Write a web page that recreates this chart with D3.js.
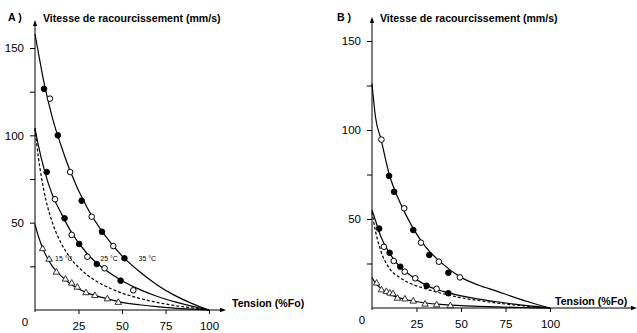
<!DOCTYPE html>
<html>
<head>
<meta charset="utf-8">
<script src="https://cdn.jsdelivr.net/npm/d3@7"></script>
<style>
  body { margin: 0; background: #fff; }
  svg text { font-family: "Liberation Sans", Arial, Helvetica, sans-serif; fill: #000; }
</style>
</head>
<body>
<script>
// tension grid (%Fo) used for the fitted curves
var tension = [0, 2, 5, 10, 15, 20, 30, 40, 50, 60, 70, 80, 90, 100];

// panel A curves (mm/s)
var a35 = [158, 147, 131, 110, 94, 80, 58.5, 43, 31, 22, 14.5, 8.5, 3.8, 0];
var a25 = [104, 94, 81.5, 65.8, 55.5, 46, 32.2, 23.3, 16.8, 11.8, 7.9, 4.8, 2.2, 0];
var aDash = [104, 87, 69, 50, 38.3, 30.3, 20.1, 13.9, 9.7, 6.7, 4.4, 2.6, 1.2, 0];
var a15 = [49, 42, 34, 25, 19.5, 15.2, 9.8, 6.8, 4.4, 3, 1.9, 1.1, 0.5, 0];

// panel A measured points [tension, speed, filled]
var a35pts = [[5.2,126.6,1],[8.6,121,0],[13.1,100,1],[20.2,79,0],[26.8,62.6,1],[32.6,53.4,0],[38.5,44.8,1],[45,36.6,0],[51.4,29.6,1]];
var a25pts = [[6.7,79,1],[11.5,63.4,0],[17,52.5,1],[21.1,43,0],[25.4,37.8,1],[30.1,30.5,0],[35.5,26.3,1],[40,23.9,0],[49.2,16.8,1],[56.5,11.3,0]];
var a15pts = [[4.4,35],[8.1,29],[12.3,21.6],[17.5,17.6],[21.1,15.3],[24.3,13],[29.3,9.8],[34.4,8.2],[41.6,6.3],[47.9,4.3]];

// panel B curves
var bTop = [126, 107, 95, 74, 61, 50.5, 34.5, 24.5, 17.2, 12.8, 9.5, 6, 2.8, 0];
var bMid = [55, 49, 40, 30.5, 24, 19.5, 13, 9.3, 6.8, 5, 3.5, 2.2, 1, 0];
var bDash = [54, 43, 32, 22, 17.5, 14.5, 10.8, 8, 5.8, 4.2, 2.8, 1.7, 0.8, 0];
var bTri = [17, 14, 11, 7.8, 5.8, 4.5, 2.8, 1.9, 1.3, 0.9, 0.6, 0.35, 0.15, 0];

// panel B measured points
var bTopPts = [[5.3,94.6,0],[9.6,74.2,1],[12.4,65.3,1],[18.1,56,0],[23.2,43.8,1],[27.5,36.7,0],[32.2,29.8,1],[37.6,26,0],[42.9,19.8,1],[49.4,17.2,0]];
var bMidPts = [[4,44.6,1],[6.7,34.4,0],[9.9,31,1],[12.2,26.4,0],[15.9,23.2,1],[18.4,20.4,0],[24.3,16.7,0],[30.7,12.5,1],[36.3,10.8,0],[42.9,8.3,1]];
var bTriPts = [[2.6,13.9],[5.3,10.1],[8.1,9.2],[10,8.3],[11.8,7.9],[14.3,5.4],[18.5,5],[23.2,3.8],[29.8,2.1],[36.3,1.7],[44,1.2]];

var xTicks = [25, 50, 75, 100];
var yTicks = [25, 50, 75, 100, 125, 150];
var yLabels = [50, 100, 150];
var tempLabels = [["15 °C", 11.5, 28], ["25 °C", 37.5, 28], ["35 °C", 59.5, 28]];

var svg = d3.select("body").append("svg").attr("width", 637).attr("height", 333);
svg.append("rect").attr("width", 637).attr("height", 333).attr("fill", "#fff");

function panel(opt) {
  var x = d3.scaleLinear().domain([0, 100]).range(opt.xr);
  var y = d3.scaleLinear().domain([0, 150]).range(opt.yr);
  var g = svg.append("g");
  var x0 = x(0), y0 = y(0);

  // axes lines + arrows
  g.append("line").attr("x1", x0).attr("x2", x0).attr("y1", y0 + 2).attr("y2", opt.yTop + 4)
    .attr("stroke", "#000").attr("stroke-width", 1);
  g.append("path").attr("d", "M" + x0 + "," + opt.yTop + "l-2.2,6h4.4z").attr("fill", "#000");
  g.append("line").attr("x1", x0).attr("x2", opt.xEnd - 4).attr("y1", y0).attr("y2", y0)
    .attr("stroke", "#000").attr("stroke-width", 1);
  g.append("path").attr("d", "M" + opt.xEnd + "," + y0 + "l-6,-2.2v4.4z").attr("fill", "#000");

  var ya = g.append("g").attr("transform", "translate(" + x0 + ",0)")
    .call(d3.axisLeft(y).tickValues(yTicks).tickSize(5).tickPadding(6)
      .tickFormat(function(d) { return yLabels.indexOf(d) >= 0 ? d : ""; }));
  ya.select(".domain").remove();
  ya.selectAll("text").attr("font-size", 11.5).attr("font-family", null);

  var xa = g.append("g").attr("transform", "translate(0," + y0 + ")")
    .call(d3.axisBottom(x).tickValues(xTicks).tickSize(4).tickPadding(8));
  xa.select(".domain").remove();
  xa.selectAll("text").attr("font-size", 11.5).attr("font-family", null);

  g.append("text").attr("x", x0 - 10).attr("y", y0 + 16).attr("text-anchor", "middle")
    .attr("font-size", 11.5).text("0");

  // labels
  g.append("text").attr("x", opt.tagX).attr("y", 21).attr("font-size", 10.6)
    .attr("font-weight", "bold").text(opt.tag);
  g.append("text").attr("x", x0 + 8).attr("y", 22).attr("font-size", 10.6)
    .attr("font-weight", "bold").text("Vitesse de racourcissement (mm/s)");
  g.append("text").attr("x", opt.tensionX).attr("y", y0 - 3).attr("font-size", 10.6)
    .attr("font-weight", "bold").text("Tension (%Fo)");

  var line = d3.line().x(function(d, i) { return x(tension[i]); })
    .y(function(d) { return y(d); }).curve(d3.curveMonotoneX);

  opt.curves.forEach(function(c) {
    g.append("path").attr("d", line(c.v)).attr("fill", "none").attr("stroke", "#000")
      .attr("stroke-width", 1.2).attr("stroke-dasharray", c.dash ? "3,2" : null);
  });

  opt.circles.forEach(function(set) {
    g.selectAll(null).data(set).join("circle")
      .attr("cx", function(d) { return x(d[0]); })
      .attr("cy", function(d) { return y(d[1]); })
      .attr("r", 2.8)
      .attr("fill", function(d) { return d[2] ? "#000" : "#fff"; })
      .attr("stroke", "#000").attr("stroke-width", 1);
  });

  var tri = d3.symbol().type(d3.symbolTriangle).size(18);
  g.selectAll(null).data(opt.tris).join("path")
    .attr("d", tri)
    .attr("transform", function(d) { return "translate(" + x(d[0]) + "," + y(d[1]) + ")"; })
    .attr("fill", "#fff").attr("stroke", "#000").attr("stroke-width", 0.8);

  if (opt.temps) {
    g.selectAll(null).data(opt.temps).join("text")
      .attr("x", function(d) { return x(d[1]); })
      .attr("y", function(d) { return y(d[2]); })
      .attr("font-size", 7).attr("fill", "#333")
      .text(function(d) { return d[0]; });
  }
}

panel({
  xr: [35, 209], yr: [310, 48], yTop: 20, xEnd: 226, tag: "A )", tagX: 8, tensionX: 232,
  curves: [{v: a35}, {v: a25}, {v: aDash, dash: true}, {v: a15}],
  circles: [a35pts, a25pts], tris: a15pts, temps: tempLabels
});

panel({
  xr: [372, 550], yr: [308, 41], yTop: 17, xEnd: 637, tag: "B )", tagX: 337, tensionX: 555,
  curves: [{v: bTop}, {v: bMid}, {v: bDash, dash: true}, {v: bTri}],
  circles: [bTopPts, bMidPts], tris: bTriPts
});
</script>
</body>
</html>
